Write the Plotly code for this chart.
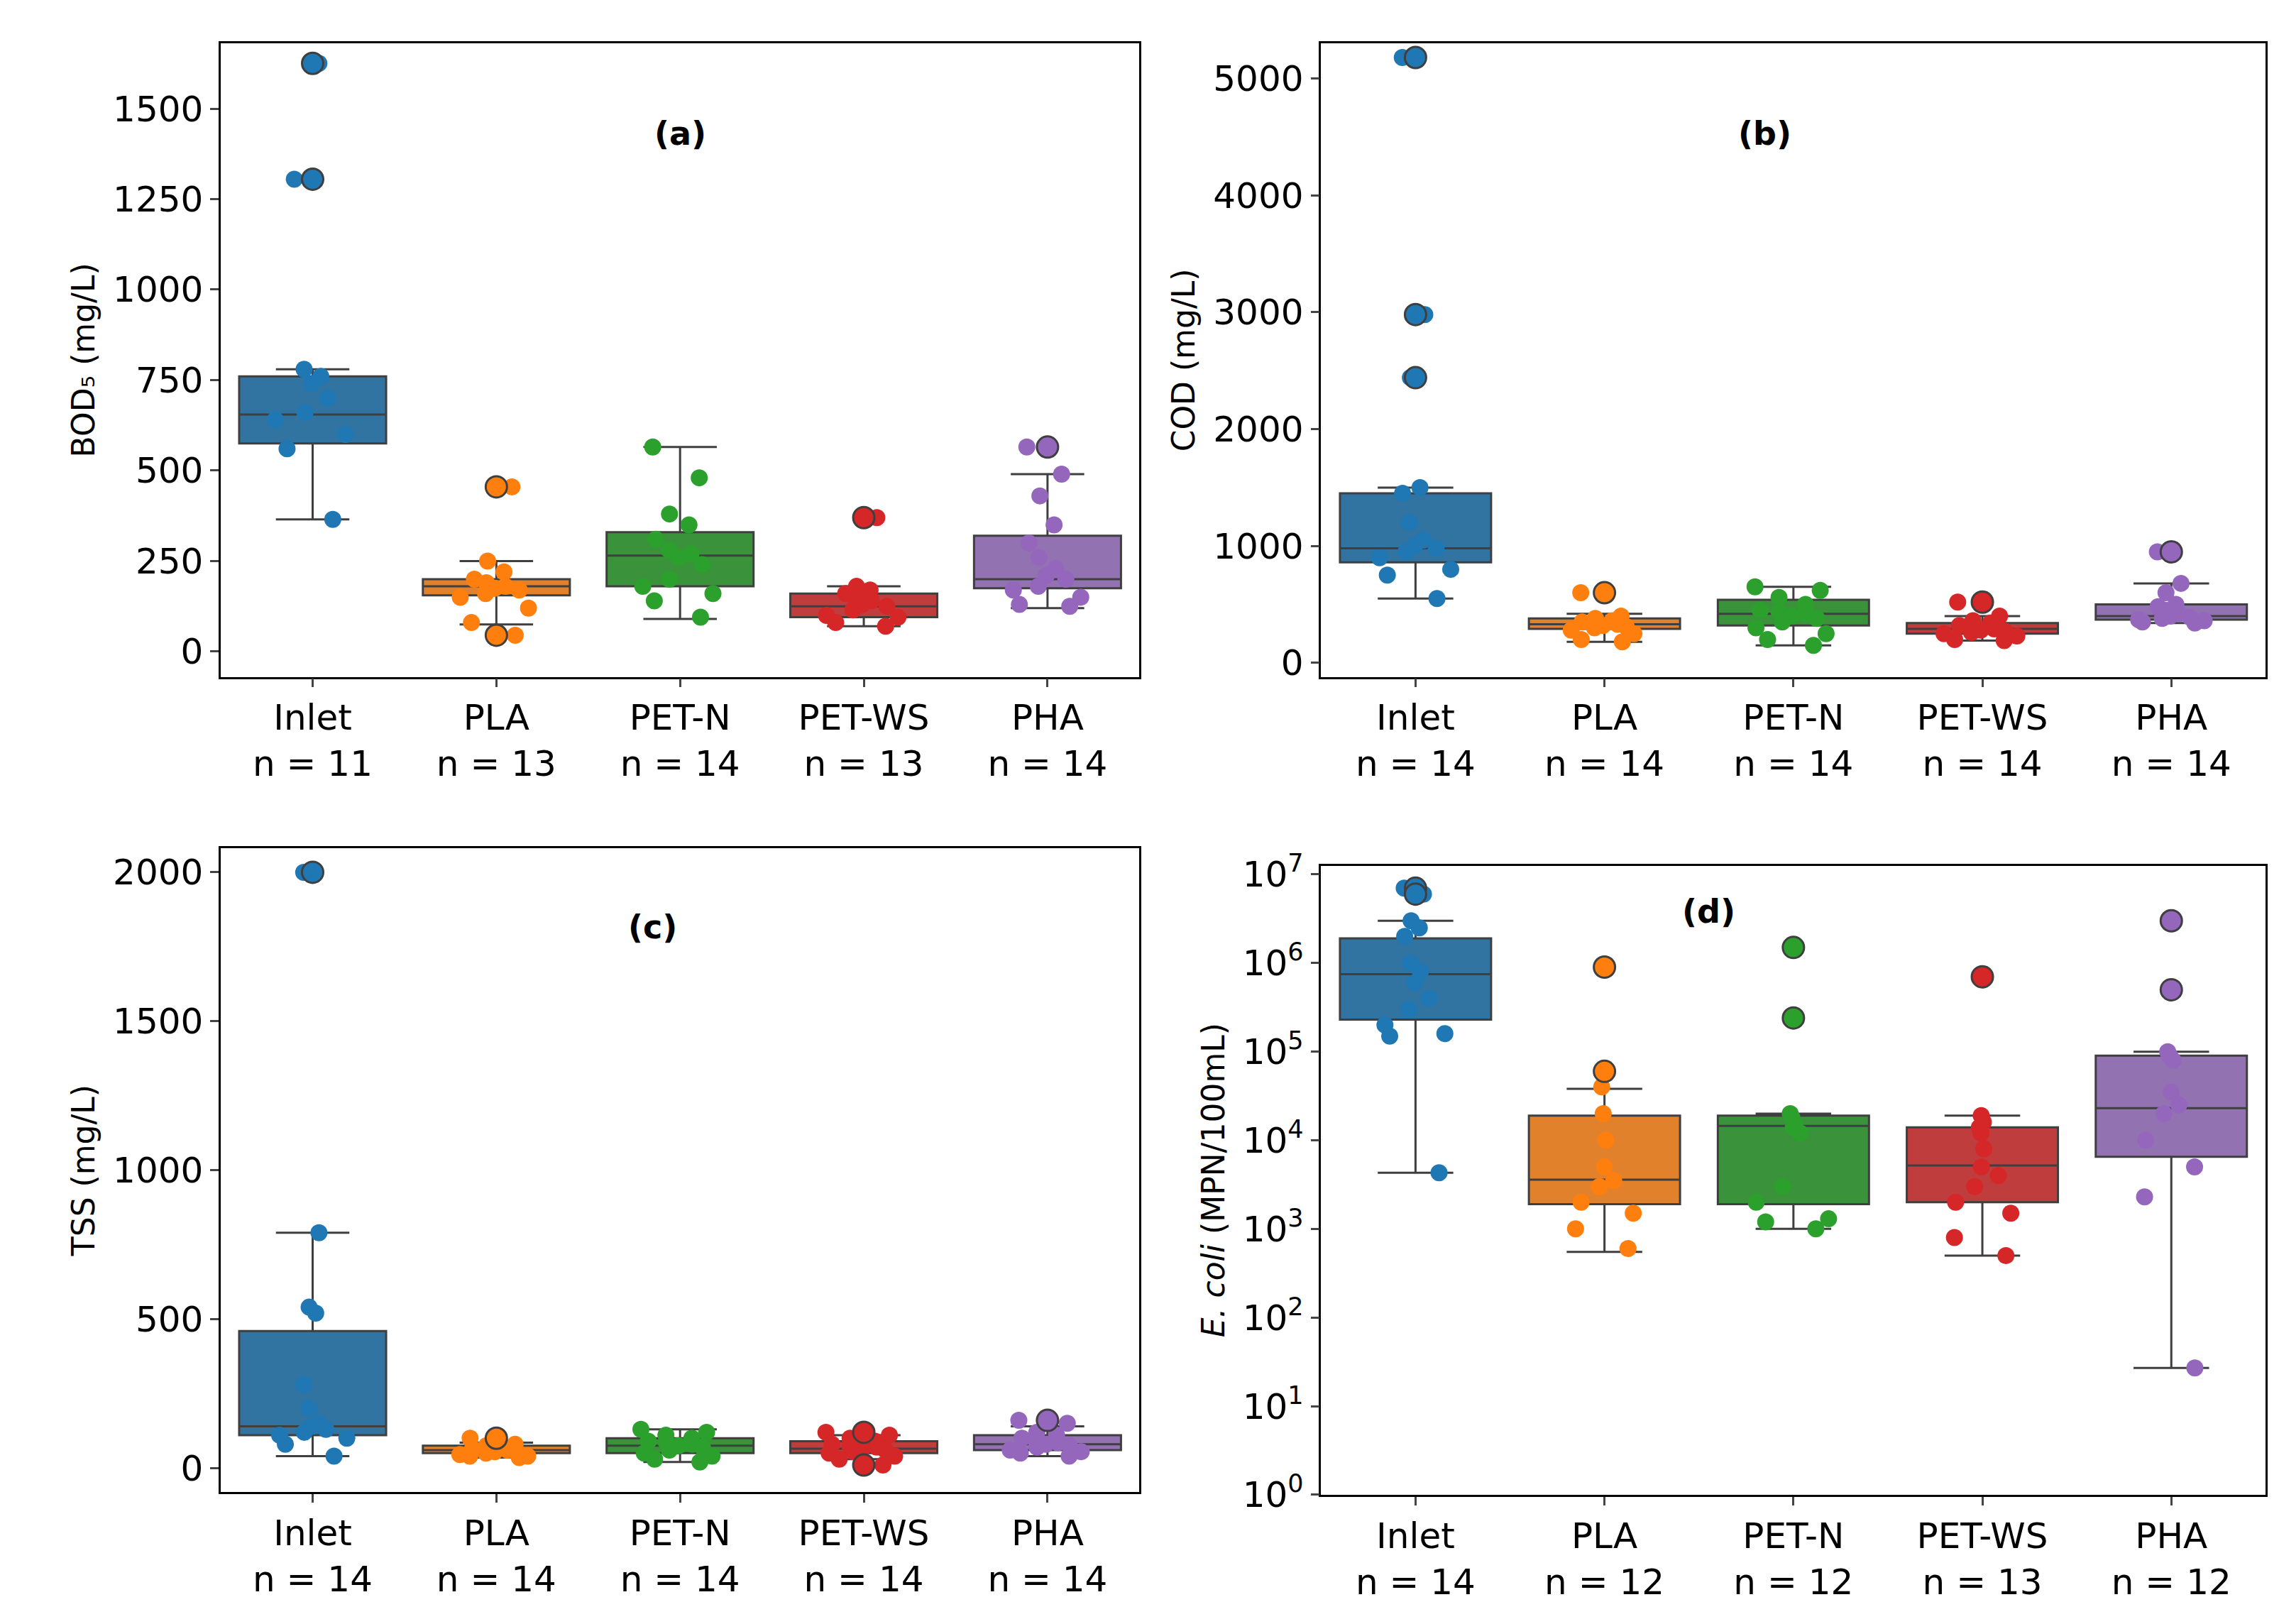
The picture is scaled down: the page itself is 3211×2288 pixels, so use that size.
import plotly.graph_objects as go
from plotly.subplots import make_subplots

groups = ["Inlet", "PLA", "PET-N", "PET-WS", "PHA"]
box_colors = ["#3274a1", "#e1812c", "#3a923a", "#c03d3e", "#9372b2"]
pt_colors = ["#1f77b4", "#ff7f0e", "#2ca02c", "#d62728", "#9467bd"]

# ---- panel data: points, box stats (q1, med, q3, lo, hi), outliers, n ----
bod_pts = [[1625,1305,780,760,740,700,660,640,600,560,365],
           [455,250,220,200,190,180,175,170,160,150,120,80,45],
           [565,480,380,350,310,280,270,260,240,200,180,160,140,95],
           [370,180,170,160,150,140,130,125,115,100,95,80,70],
           [565,490,430,350,300,260,230,210,200,180,170,150,130,125]]
bod_box = [[575,655,760,365,780],[155,180,200,75,250],[180,265,330,90,565],[95,125,160,70,180],[175,200,320,120,490]]
bod_out = [[1625,1305],[455,45],[],[370],[565]]
bod_n = [11,13,14,13,14]

cod_pts = [[5180,2980,2440,1500,1450,1200,1050,1000,980,950,900,800,750,550],
           [600,400,380,360,350,340,330,320,310,300,280,250,200,180],
           [650,620,560,500,450,430,420,400,380,350,300,250,200,150],
           [520,400,360,340,320,300,290,280,270,260,250,230,200,190],
           [950,680,600,500,480,450,420,400,390,380,370,360,350,340]]
cod_box = [[860,980,1450,550,1500],[290,330,380,180,420],[320,420,540,150,650],[250,290,340,190,400],[370,400,500,340,680]]
cod_out = [[5180,2980,2440],[600],[],[520],[950]]
cod_n = [14,14,14,14,14]

tss_pts = [[2000,790,540,520,280,200,150,140,130,120,110,100,80,40],
           [100,80,75,70,65,60,60,55,50,50,45,40,40,35],
           [130,120,110,100,90,85,80,75,70,60,50,40,30,20],
           [120,110,100,90,80,75,70,65,60,55,50,40,30,10],
           [160,150,120,110,100,90,85,80,75,70,60,55,50,40]]
tss_box = [[110,140,460,40,790],[50,60,75,35,85],[50,75,100,20,130],[50,65,90,30,110],[60,80,110,40,140]]
tss_out = [[2000],[100],[],[120,10],[160]]
tss_n = [14,14,14,14,14]

eco_pts = [[7e6,6e6,3e6,2.5e6,2e6,1e6,8e5,6e5,4e5,3e5,2e5,1.5e5,1.6e5,4.3e3],
           [9e5,6e4,4e4,2e4,1e4,5e3,3.5e3,3e3,2e3,1.5e3,1e3,6e2],
           [1.5e6,2.4e5,2e4,1.8e4,1.5e4,1.4e4,1.2e4,3e3,2e3,1.3e3,1.2e3,1e3],
           [7e5,1.9e4,1.6e4,1.4e4,1.2e4,8e3,5e3,4e3,3e3,2e3,1.5e3,8e2,5e2],
           [3e6,5e5,1e5,9e4,8e4,3.5e4,2.5e4,2e4,1e4,5e3,2.3e3,27]]
eco_box = [[2.3e5,7.5e5,1.9e6,4.3e3,3e6],[1.9e3,3.6e3,1.9e4,5.5e2,3.8e4],[1.9e3,1.45e4,1.9e4,1e3,2e4],
           [2e3,5.2e3,1.4e4,5e2,1.9e4],[6.5e3,2.3e4,9e4,27,1e5]]
eco_out = [[7e6,6e6],[9e5,6e4],[1.5e6,2.4e5],[7e5],[3e6,5e5]]
eco_n = [14,12,12,13,12]

panels = [("(a)", bod_pts, bod_box, bod_out, bod_n, "BOD₅ (mg/L)"),
          ("(b)", cod_pts, cod_box, cod_out, cod_n, "COD (mg/L)"),
          ("(c)", tss_pts, tss_box, tss_out, tss_n, "TSS (mg/L)"),
          ("(d)", eco_pts, eco_box, eco_out, eco_n, "<i>E. coli</i> (MPN/100mL)")]

W, H = 3211, 2288
fig = make_subplots(rows=2, cols=2)
dom = [((148, 780), (15, 458)), ((905, 1555), (15, 458)), ((148, 780), (578, 1028)), ((905, 1555), (590, 1030))]
ann_pos = [(0.5, 0.89), (0.47, 0.89), (0.47, 0.91), (0.41, 0.96)]
sx, sy = 1/1568, 1/1110
FS = 50

for i, (lab, pts, box, outs, ns, ytitle) in enumerate(panels):
    r, c = i // 2 + 1, i % 2 + 1
    labels = [f"{g}<br>n = {n}" for g, n in zip(groups, ns)]
    for j in range(5):
        q1, md, q3, lo, hi = box[j]
        fig.add_trace(go.Box(x=[labels[j]], q1=[q1], median=[md], q3=[q3], lowerfence=[lo], upperfence=[hi],
                             fillcolor=box_colors[j], line=dict(color="#3f3f3f", width=3), width=0.8,
                             boxpoints=False, showlegend=False, whiskerwidth=0.5), row=r, col=c)
        if outs[j]:
            fig.add_trace(go.Scatter(x=[labels[j]]*len(outs[j]), y=outs[j], mode="markers",
                                     marker=dict(size=30, color=pt_colors[j], line=dict(color="#3f3f3f", width=3)),
                                     showlegend=False), row=r, col=c)
        fig.add_trace(go.Box(x=[labels[j]]*len(pts[j]), y=pts[j], boxpoints="all", jitter=0.6, pointpos=0,
                             fillcolor="rgba(0,0,0,0)", line=dict(color="rgba(0,0,0,0)", width=0),
                             marker=dict(size=24, color=pt_colors[j]), width=0.8, showlegend=False,
                             hoveron="points"), row=r, col=c)
    (x0, x1), (y0, y1) = dom[i]
    xa = "xaxis" if i == 0 else f"xaxis{i+1}"
    ya = "yaxis" if i == 0 else f"yaxis{i+1}"
    fig.layout[xa].update(domain=[x0*sx, x1*sx], showline=True, mirror=True, linecolor="black", linewidth=2.5,
                          ticks="outside", ticklen=12, tickwidth=2.5, tickfont=dict(size=FS), range=[-0.5, 4.5])
    fig.layout[ya].update(domain=[1 - y1*sy, 1 - y0*sy], showline=True, mirror=True, linecolor="black", linewidth=2.5,
                          ticks="outside", ticklen=12, tickwidth=2.5, tickfont=dict(size=FS), showgrid=False,
                          zeroline=False, title=dict(text=ytitle, font=dict(size=FS-6), standoff=12))
    ax, ay = ann_pos[i]
    fig.add_annotation(text=f"<b>{lab}</b>", x=ax, y=ay, xref=f"{xa.replace('axis','')} domain",
                       yref=f"{ya.replace('axis','')} domain", showarrow=False, font=dict(size=FS-4, color="black"))

fig.layout.yaxis.update(range=[-70, 1680], tickvals=[0,250,500,750,1000,1250,1500])
fig.layout.yaxis2.update(range=[-120, 5300], tickvals=[0,1000,2000,3000,4000,5000])
fig.layout.yaxis3.update(range=[-80, 2080], tickvals=[0,500,1000,1500,2000])
fig.layout.yaxis4.update(type="log", range=[0, 7.1], tickvals=[10**k for k in range(8)],
                         ticktext=[f"10<sup>{k}</sup>" for k in range(8)])

fig.update_layout(width=W, height=H, margin=dict(l=0, r=0, t=0, b=0), plot_bgcolor="white", paper_bgcolor="white",
                  boxmode="overlay", font=dict(family="DejaVu Sans", color="black"))
fig.write_html("out.html")
